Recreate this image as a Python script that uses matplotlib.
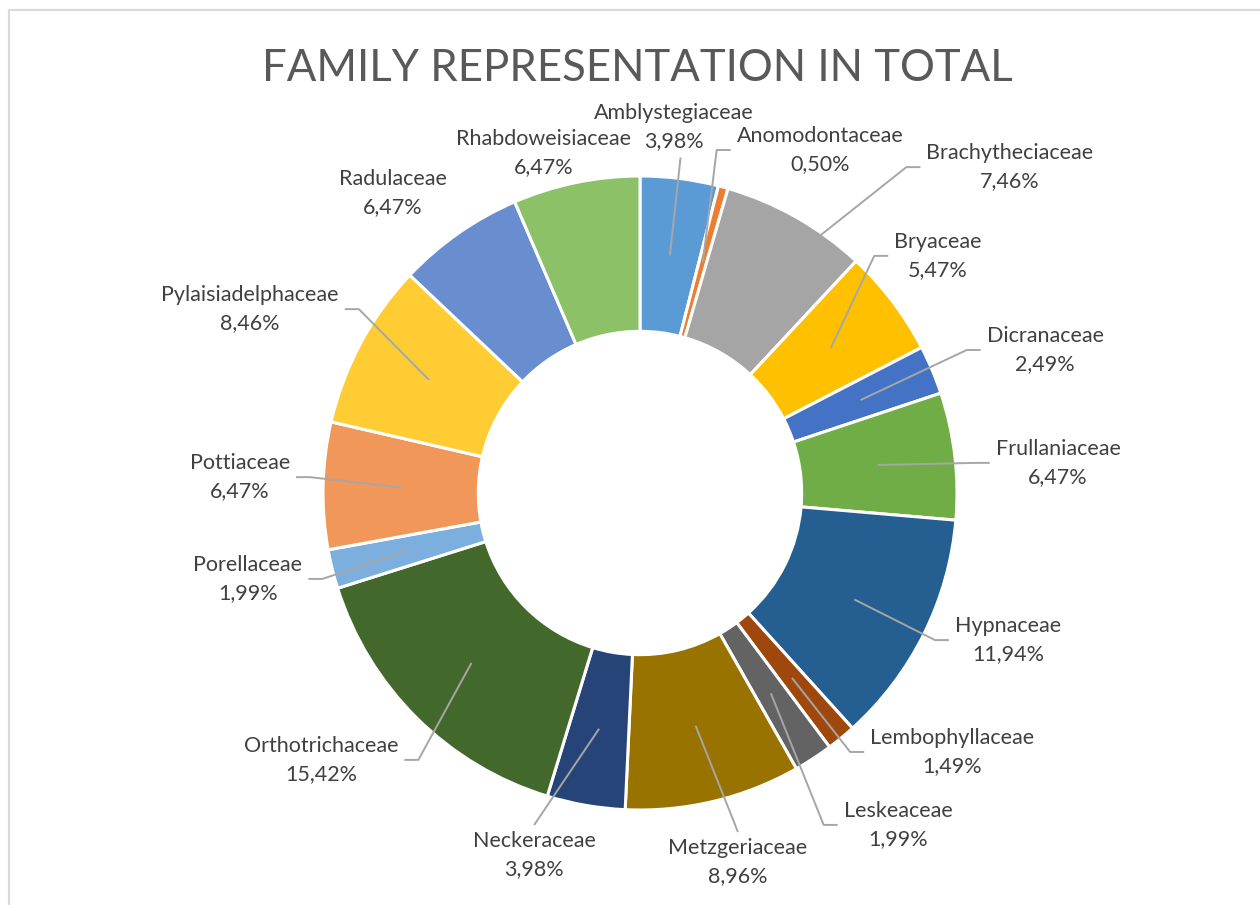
import numpy as np
import matplotlib.pyplot as plt
from matplotlib.patches import Rectangle
from matplotlib.transforms import Bbox

families = ['Amblystegiaceae', 'Anomodontaceae', 'Brachytheciaceae', 'Bryaceae',
            'Dicranaceae', 'Frullaniaceae', 'Hypnaceae', 'Lembophyllaceae',
            'Leskeaceae', 'Metzgeriaceae', 'Neckeraceae', 'Orthotrichaceae',
            'Porellaceae', 'Pottiaceae', 'Pylaisiadelphaceae', 'Radulaceae',
            'Rhabdoweisiaceae']
shares = [3.98, 0.50, 7.46, 5.47, 2.49, 6.47, 11.94, 1.49, 1.99, 8.96,
          3.98, 15.42, 1.99, 6.47, 8.46, 6.47, 6.47]
colors = ['#5B9BD5', '#ED7D31', '#A5A5A5', '#FFC000', '#4472C4', '#70AD47',
          '#255E91', '#9E480E', '#636363', '#997300', '#264478', '#43682B',
          '#7CAFDD', '#F1975A', '#FFCD33', '#698ED0', '#8CC168']

# where the data labels sit (in outer-radius units from the centre) and which
# side of the label the leader line meets
label_xy = [(0.108, 1.153), (0.568, 1.082), (1.167, 1.028), (0.940, 0.748),
            (1.278, 0.451), (1.319, 0.095), (1.161, -0.464), (0.985, -0.817),
            (0.814, -1.047), (0.309, -1.164), (-0.334, -1.142), (-1.006, -0.842),
            (-1.237, -0.271), (-1.262, 0.050), (-1.230, 0.580), (-0.779, 0.946),
            (-0.303, 1.072)]
leader_side = ['b', 'l', 'l', 'l', 'l', 'l', 'l', 'l', 'l', 't', 't', 'r',
               'r', 'r', 'r', None, None]

plt.rcParams['font.family'] = ['Lato', 'DejaVu Sans']

W, H = 1260, 905
cx, cy, R = 640, 493, 317   # centre and outer radius in pixels

fig = plt.figure(figsize=(W / 100, H / 100), dpi=100)
ax = fig.add_axes([0, 0, 1, 1])
wedges, _ = ax.pie(shares, colors=colors, startangle=90, counterclock=False,
                   radius=1, wedgeprops=dict(width=0.49, edgecolor='white', linewidth=2.2))
ax.set_xlim(-cx / R, (W - cx) / R)
ax.set_ylim(-(H - cy) / R, cy / R)
ax.set_aspect('auto')
ax.axis('off')

# chart frame
fig.add_artist(Rectangle((9 / W, -0.1), 1.2, 1.1 - 10 / H, transform=fig.transFigure,
                         fill=False, edgecolor='#D9D9D9', lw=1.5))

fig.text(637 / W, 1 - 81 / H, 'FAMILY REPRESENTATION IN TOTAL', ha='center',
         va='baseline', fontsize=31.5, color='#595959')

# two lines per label: name, then percentage
d = 14 / R
labels = []
for name, v, (lx, ly) in zip(families, shares, label_xy):
    pct = f'{v:.2f}'.replace('.', ',') + '%'
    t1 = ax.text(lx, ly + d, name, ha='center', va='center', fontsize=15.5, color='#404040')
    t2 = ax.text(lx, ly - d, pct, ha='center', va='center', fontsize=15.5, color='#404040')
    labels.append((t1, t2))

fig.canvas.draw()
renderer = fig.canvas.get_renderer()
inv = ax.transData.inverted()
gap, tick = 6 / R, 14 / R
for w, (t1, t2), side in zip(wedges, labels, leader_side):
    if side is None:
        continue
    a = np.deg2rad((w.theta1 + w.theta2) / 2)
    sx, sy = 0.755 * np.cos(a), 0.755 * np.sin(a)
    bb = Bbox.union([t1.get_window_extent(renderer), t2.get_window_extent(renderer)])
    (x0, y0), (x1, y1) = inv.transform([(bb.x0, bb.y0), (bb.x1, bb.y1)])
    xm, ym = (x0 + x1) / 2, (y0 + y1) / 2
    if side == 'l':
        xs, ys = [sx, x0 - gap - tick, x0 - gap], [sy, ym, ym]
    elif side == 'r':
        xs, ys = [sx, x1 + gap + tick, x1 + gap], [sy, ym, ym]
    elif side == 't':
        xs, ys = [sx, xm], [sy, y1 + gap]
    else:
        xs, ys = [sx, xm + 0.02], [sy, y0 - gap]
    ax.plot(xs, ys, color='#A6A6A6', lw=1.4, solid_capstyle='butt')

fig.savefig('out.png', dpi=100)
